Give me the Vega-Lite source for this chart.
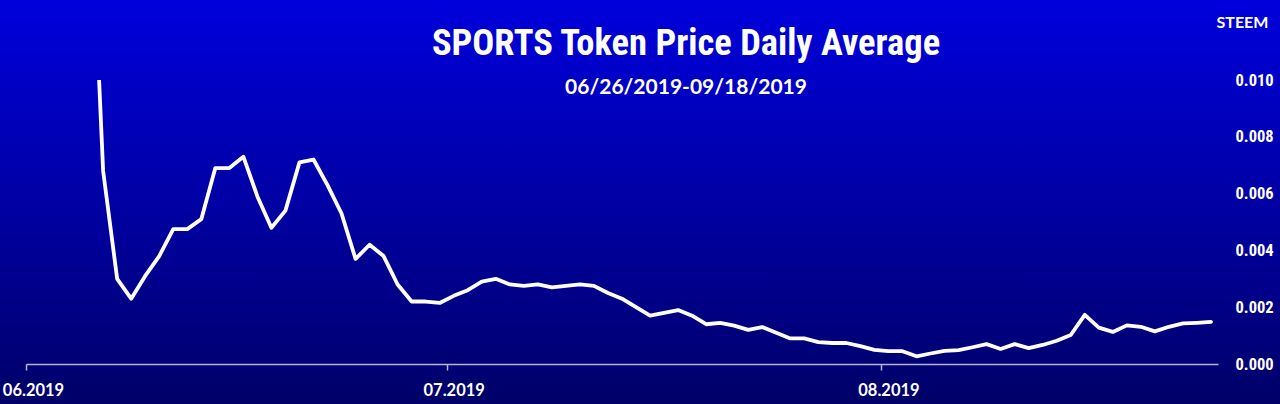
{
  "$schema": "https://vega.github.io/schema/vega-lite/v6.json",
  "width": 1192,
  "height": 284,
  "autosize": {"type": "none"},
  "padding": {"left": 26, "top": 80, "right": 62, "bottom": 40},
  "background": "#00009c",
  "config": {"view": {"stroke": null, "fill": null}},
  "title": {
    "text": "SPORTS Token Price Daily Average",
    "subtitle": "06/26/2019-09/18/2019",
    "anchor": "middle",
    "frame": "group",
    "zindex": 1,
    "dx": 64,
    "offset": -98,
    "font": "Roboto Condensed, Liberation Sans Narrow, Liberation Sans",
    "fontSize": 36.5,
    "fontWeight": "bold",
    "color": "#ffffff",
    "subtitleFont": "Lato",
    "subtitleFontSize": 21,
    "subtitleFontWeight": "bold",
    "subtitleColor": "#ffffff",
    "subtitlePadding": 14
  },
  "data": {
    "values": [
      {"date": "2019-06-05", "price": 0.0179},
      {"date": "2019-06-06", "price": 0.0068},
      {"date": "2019-06-07", "price": 0.0030},
      {"date": "2019-06-08", "price": 0.0023},
      {"date": "2019-06-09", "price": 0.0031},
      {"date": "2019-06-10", "price": 0.0038},
      {"date": "2019-06-11", "price": 0.00475},
      {"date": "2019-06-12", "price": 0.00475},
      {"date": "2019-06-13", "price": 0.0051},
      {"date": "2019-06-14", "price": 0.0069},
      {"date": "2019-06-15", "price": 0.0069},
      {"date": "2019-06-16", "price": 0.0073},
      {"date": "2019-06-17", "price": 0.0059},
      {"date": "2019-06-18", "price": 0.0048},
      {"date": "2019-06-19", "price": 0.0054},
      {"date": "2019-06-20", "price": 0.0071},
      {"date": "2019-06-21", "price": 0.0072},
      {"date": "2019-06-22", "price": 0.0063},
      {"date": "2019-06-23", "price": 0.0053},
      {"date": "2019-06-24", "price": 0.0037},
      {"date": "2019-06-25", "price": 0.0042},
      {"date": "2019-06-26", "price": 0.0038},
      {"date": "2019-06-27", "price": 0.0028},
      {"date": "2019-06-28", "price": 0.0022},
      {"date": "2019-06-29", "price": 0.0022},
      {"date": "2019-06-30", "price": 0.00215},
      {"date": "2019-07-01", "price": 0.0024},
      {"date": "2019-07-02", "price": 0.0026},
      {"date": "2019-07-03", "price": 0.0029},
      {"date": "2019-07-04", "price": 0.0030},
      {"date": "2019-07-05", "price": 0.0028},
      {"date": "2019-07-06", "price": 0.00275},
      {"date": "2019-07-07", "price": 0.0028},
      {"date": "2019-07-08", "price": 0.0027},
      {"date": "2019-07-09", "price": 0.00275},
      {"date": "2019-07-10", "price": 0.0028},
      {"date": "2019-07-11", "price": 0.00275},
      {"date": "2019-07-12", "price": 0.0025},
      {"date": "2019-07-13", "price": 0.0023},
      {"date": "2019-07-14", "price": 0.0020},
      {"date": "2019-07-15", "price": 0.0017},
      {"date": "2019-07-16", "price": 0.0018},
      {"date": "2019-07-17", "price": 0.0019},
      {"date": "2019-07-18", "price": 0.0017},
      {"date": "2019-07-19", "price": 0.0014},
      {"date": "2019-07-20", "price": 0.00145},
      {"date": "2019-07-21", "price": 0.00135},
      {"date": "2019-07-22", "price": 0.0012},
      {"date": "2019-07-23", "price": 0.0013},
      {"date": "2019-07-24", "price": 0.0011},
      {"date": "2019-07-25", "price": 0.0009},
      {"date": "2019-07-26", "price": 0.0009},
      {"date": "2019-07-27", "price": 0.00077},
      {"date": "2019-07-28", "price": 0.00074},
      {"date": "2019-07-29", "price": 0.00074},
      {"date": "2019-07-30", "price": 0.00063},
      {"date": "2019-07-31", "price": 0.0005},
      {"date": "2019-08-01", "price": 0.00045},
      {"date": "2019-08-02", "price": 0.00045},
      {"date": "2019-08-03", "price": 0.00027},
      {"date": "2019-08-04", "price": 0.00037},
      {"date": "2019-08-05", "price": 0.00046},
      {"date": "2019-08-06", "price": 0.00049},
      {"date": "2019-08-07", "price": 0.00059},
      {"date": "2019-08-08", "price": 0.0007},
      {"date": "2019-08-09", "price": 0.00053},
      {"date": "2019-08-10", "price": 0.0007},
      {"date": "2019-08-11", "price": 0.00056},
      {"date": "2019-08-12", "price": 0.00067},
      {"date": "2019-08-13", "price": 0.00082},
      {"date": "2019-08-14", "price": 0.00102},
      {"date": "2019-08-15", "price": 0.00173},
      {"date": "2019-08-16", "price": 0.00128},
      {"date": "2019-08-17", "price": 0.00113},
      {"date": "2019-08-18", "price": 0.00136},
      {"date": "2019-08-19", "price": 0.00131},
      {"date": "2019-08-20", "price": 0.00115},
      {"date": "2019-08-21", "price": 0.00131},
      {"date": "2019-08-22", "price": 0.00143},
      {"date": "2019-08-23", "price": 0.00145},
      {"date": "2019-08-24", "price": 0.00148}
    ]
  },
  "layer": [
    {
      "mark": {
        "type": "rect",
        "clip": false,
        "fill": {
          "gradient": "linear",
          "x1": 0, "y1": 0, "x2": 0, "y2": 1,
          "stops": [
            {"offset": 0, "color": "#0000dc"},
            {"offset": 0.5, "color": "#0000a4"},
            {"offset": 1, "color": "#000068"}
          ]
        }
      },
      "encoding": {
        "x": {"datum": {"year": 2019, "month": 5, "date": 15, "utc": true}, "type": "temporal"},
        "x2": {"datum": {"year": 2019, "month": 9, "date": 15, "utc": true}},
        "y": {"datum": -0.001408, "type": "quantitative"},
        "y2": {"datum": 0.012817}
      }
    },
    {
      "mark": {"type": "line", "clip": true, "color": "#ffffff", "strokeWidth": 3.8, "strokeJoin": "round", "strokeCap": "round"},
      "encoding": {
        "x": {
          "field": "date",
          "timeUnit": "utcyearmonthdate",
          "type": "temporal",
          "bandPosition": 0.5,
          "scale": {
            "type": "utc",
            "domain": [
              {"year": 2019, "month": 6, "date": 1, "utc": true},
              {"year": 2019, "month": 8, "date": 25, "utc": true}
            ]
          },
          "axis": {
            "title": null,
            "zindex": 1,
            "values": [
              {"year": 2019, "month": 6, "date": 1, "utc": true},
              {"year": 2019, "month": 7, "date": 1, "utc": true},
              {"year": 2019, "month": 8, "date": 1, "utc": true}
            ],
            "labelExpr": "utcFormat(datum.value, '%m.%Y')",
            "grid": false,
            "domainColor": "#b4b4d6",
            "domainWidth": 1.5,
            "tickColor": "#b4b4d6",
            "tickWidth": 1.5,
            "tickSize": 6,
            "labelFont": "Lato",
            "labelFontSize": 16.5,
            "labelFontWeight": "bold",
            "labelColor": "#ffffff",
            "labelPadding": 12,
            "labelOffset": 7,
            "labelFlush": false,
            "labelOverlap": false
          }
        },
        "y": {
          "field": "price",
          "type": "quantitative",
          "scale": {"domain": [0, 0.01], "nice": false, "zero": true},
          "axis": {
            "orient": "right",
            "zindex": 1,
            "values": [0, 0.002, 0.004, 0.006, 0.008, 0.01],
            "format": ".3f",
            "grid": false,
            "domain": false,
            "ticks": false,
            "labelPadding": 17,
            "labelFont": "Roboto Condensed, Liberation Sans Narrow, Liberation Sans",
            "labelFontSize": 16.5,
            "labelFontWeight": "bold",
            "labelColor": "#ffffff",
            "title": "STEEM",
            "titleFont": "Lato",
            "titleFontSize": 16,
            "titleFontWeight": "bold",
            "titleColor": "#ffffff",
            "titleAngle": 0,
            "titleAlign": "center",
            "titleBaseline": "alphabetic",
            "titleX": 24,
            "titleY": -53
          }
        }
      }
    }
  ]
}
